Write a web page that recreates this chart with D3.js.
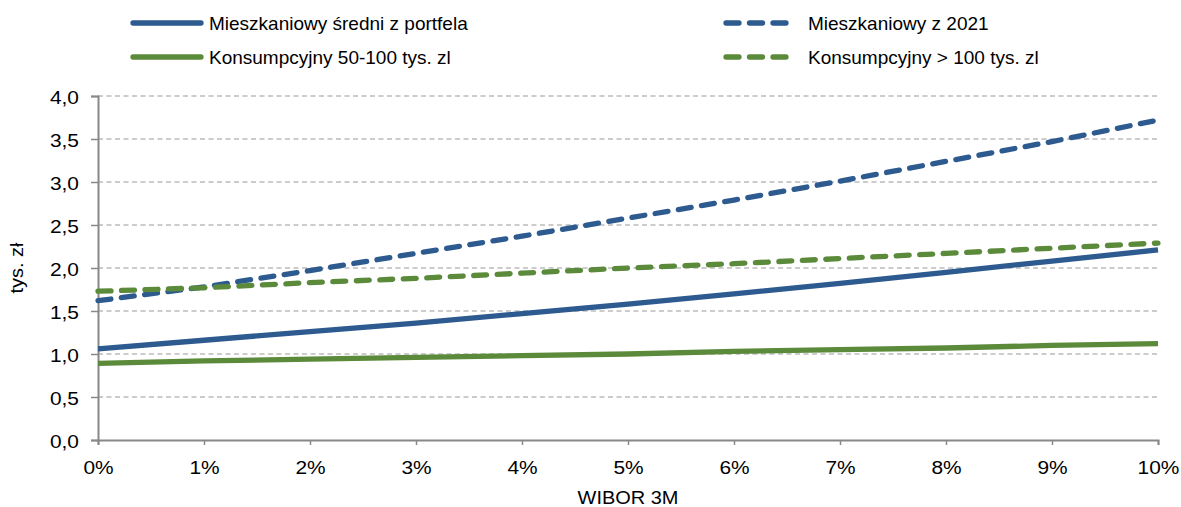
<!DOCTYPE html>
<html>
<head>
<meta charset="utf-8">
<script src="https://cdn.jsdelivr.net/npm/d3@7"></script>
<style>
  body { margin: 0; background: #fff; }
  svg text { font-family: "Liberation Sans", Arial, sans-serif; fill: #000; }
</style>
</head>
<body>
<svg width="1181" height="507"></svg>
<script>
var svg = d3.select('svg');

// data
var wibor = [0, 1, 2, 3, 4, 5, 6, 7, 8, 9, 10];
var mieszkSredni = [1.06, 1.16, 1.26, 1.36, 1.47, 1.58, 1.70, 1.82, 1.95, 2.08, 2.21];
var mieszk2021 = [1.62, 1.78, 1.97, 2.17, 2.37, 2.58, 2.79, 3.01, 3.24, 3.47, 3.72];
var konsum50 = [0.89, 0.92, 0.94, 0.96, 0.98, 1.00, 1.03, 1.05, 1.07, 1.10, 1.12];
var konsum100 = [1.73, 1.77, 1.83, 1.88, 1.94, 2.00, 2.05, 2.11, 2.17, 2.23, 2.29];
var yTicks = [0, 0.5, 1, 1.5, 2, 2.5, 3, 3.5, 4];

var blue = '#2d5a8f';
var green = '#5b8a3b';

var series = [
    { name: 'Mieszkaniowy średni z portfela', values: mieszkSredni, color: blue, dashed: false },
    { name: 'Mieszkaniowy z 2021', values: mieszk2021, color: blue, dashed: true },
    { name: 'Konsumpcyjny 50-100 tys. zl', values: konsum50, color: green, dashed: false },
    { name: 'Konsumpcyjny > 100 tys. zl', values: konsum100, color: green, dashed: true }
];

var margin = { t: 96, r: 23, b: 67, l: 98 };
var width = 1181 - margin.l - margin.r;
var height = 507 - margin.t - margin.b;
var stretch = 1.1; // tick text in the picture is a bit wide

var g = svg.append('g').attr('transform', 'translate(' + [margin.l, margin.t] + ')');

var xScale = d3.scaleLinear().domain([0, 10]).range([0, width]);
var yScale = d3.scaleLinear().domain([0, 4]).range([height, 0]);

// grid
g.selectAll('.grid')
    .data(yTicks.filter(d => d > 0))
    .enter()
    .append('line')
    .attr('class', 'grid')
    .attr('x1', 0)
    .attr('x2', width)
    .attr('y1', d => yScale(d))
    .attr('y2', d => yScale(d))
    .attr('stroke', '#999')
    .attr('stroke-width', 1.2)
    .attr('stroke-dasharray', '5,3.5');

function fmtY(d) { return d3.format('.1f')(d).replace('.', ','); }

// y axis
var yAxis = d3.axisLeft(yScale).tickValues(yTicks).tickSize(7).tickPadding(0).tickFormat('');
var yAxisG = g.append('g').call(yAxis);
yAxisG.select('.domain').attr('stroke', '#888').attr('stroke-width', 2);
yAxisG.selectAll('.tick line').attr('stroke', '#888').attr('stroke-width', 1.5);
yAxisG.selectAll('.tick').append('text')
    .attr('transform', 'translate(-19,7) scale(' + stretch + ',1)')
    .attr('text-anchor', 'end')
    .style('font-size', '19px')
    .text(fmtY);

// x axis
var xAxis = d3.axisBottom(xScale).tickValues(wibor).tickSize(5).tickFormat('');
var xAxisG = g.append('g').attr('transform', 'translate(0,' + height + ')').call(xAxis);
xAxisG.select('.domain').attr('stroke', '#888').attr('stroke-width', 2);
xAxisG.selectAll('.tick line').attr('stroke', '#888').attr('stroke-width', 1.5);
xAxisG.selectAll('.tick').append('text')
    .attr('transform', 'translate(0,34) scale(' + stretch + ',1)')
    .attr('text-anchor', 'middle')
    .style('font-size', '19px')
    .text(d => d + '%');

// axis titles
g.append('text')
    .attr('transform', 'translate(' + (width / 2) + ',' + (height + 64) + ') scale(1.05,1)')
    .attr('text-anchor', 'middle')
    .style('font-size', '19px')
    .text('WIBOR 3M');

g.append('text')
    .attr('transform', 'translate(-75,' + (height / 2) + ') rotate(-90) scale(1.05,1)')
    .attr('text-anchor', 'middle')
    .style('font-size', '19px')
    .text('tys. zł');

// lines
var line = d3.line()
    .x((d, i) => xScale(wibor[i]))
    .y(d => yScale(d));

g.selectAll('.series')
    .data(series)
    .enter()
    .append('path')
    .attr('class', 'series')
    .attr('fill', 'none')
    .attr('stroke', d => d.color)
    .attr('stroke-width', 5.3)
    .attr('stroke-linecap', d => d.dashed ? 'round' : 'butt')
    .attr('stroke-dasharray', d => d.dashed ? '13,10.5' : null)
    .attr('d', d => line(d.values));

// legend
var legendPos = [[133, 23], [726, 23], [133, 57], [726, 57]];
var legend = svg.selectAll('.legend')
    .data(series)
    .enter()
    .append('g')
    .attr('class', 'legend')
    .attr('transform', (d, i) => 'translate(' + legendPos[i] + ')');

legend.append('line')
    .attr('x1', 0)
    .attr('x2', d => d.dashed ? 70 : 68)
    .attr('stroke', d => d.color)
    .attr('stroke-width', 5.3)
    .attr('stroke-linecap', 'round')
    .attr('stroke-dasharray', d => d.dashed ? '13,10.5' : null);

legend.append('text')
    .attr('transform', d => 'translate(' + (d.dashed ? 82 : 76) + ',7)')
    .style('font-size', '19px')
    .text(d => d.name);
</script>
</body>
</html>
